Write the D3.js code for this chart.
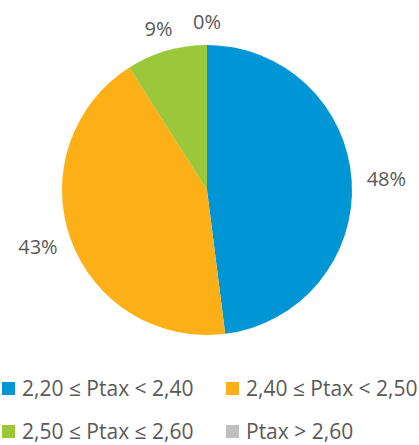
<!DOCTYPE html>
<html>
<head>
<meta charset="utf-8">
<script src="https://cdn.jsdelivr.net/npm/d3@7"></script>
<style>
  body { margin: 0; background: #fff; }
  text { font-family: "Open Sans", sans-serif; fill: #595959; }
</style>
</head>
<body>
<div id="chart"></div>
<script>
const categories = ["2,20 ≤ Ptax < 2,40", "2,40 ≤ Ptax < 2,50", "2,50 ≤ Ptax ≤ 2,60", "Ptax > 2,60"];
const values = [48, 43, 9, 0];
const labels = ["48%", "43%", "9%", "0%"];
const colors = ["#0096d6", "#fdaf17", "#9bc83a", "#bfbfbf"];

const width = 419, height = 445;
const cx = 207, cy = 190, radius = 145;

const svg = d3.select("#chart").append("svg")
    .attr("width", width)
    .attr("height", height);

const data = categories.map((c, i) => ({ name: c, value: values[i], label: labels[i], color: colors[i] }));

const pie = d3.pie().sort(null).value(d => d.value);
const arcs = pie(data);
const arc = d3.arc().innerRadius(0).outerRadius(radius);

const g = svg.append("g").attr("transform", "translate(" + cx + "," + cy + ")");

g.selectAll("path")
    .data(arcs)
    .enter()
    .append("path")
    .attr("d", arc)
    .attr("fill", d => d.data.color);

// labels outside the pie, pushed out by half their box
const labelR = 160;
const lbls = g.selectAll("text.lbl")
    .data(arcs)
    .enter()
    .append("text")
    .attr("class", "lbl")
    .attr("text-anchor", "middle")
    .attr("dy", "0.35em")
    .style("font-size", "20px")
    .text(d => d.data.label);

lbls.each(function(d) {
    const a = (d.startAngle + d.endAngle) / 2;
    const hw = this.getComputedTextLength() / 2;
    d3.select(this)
        .attr("x", (labelR + hw) * Math.sin(a))
        .attr("y", -(labelR + 8) * Math.cos(a));
});

// legend
const legend = svg.append("g");
const item = legend.selectAll("g")
    .data(data)
    .enter()
    .append("g")
    .attr("transform", (d, i) => "translate(" + (2 + (i % 2) * 224) + "," + (382 + Math.floor(i / 2) * 43) + ")");

item.append("rect")
    .attr("width", 13)
    .attr("height", 13)
    .attr("fill", d => d.color);

item.append("text")
    .attr("x", 20)
    .attr("y", 14)
    .style("font-size", "21px")
    .text(d => d.name);
</script>
</body>
</html>
